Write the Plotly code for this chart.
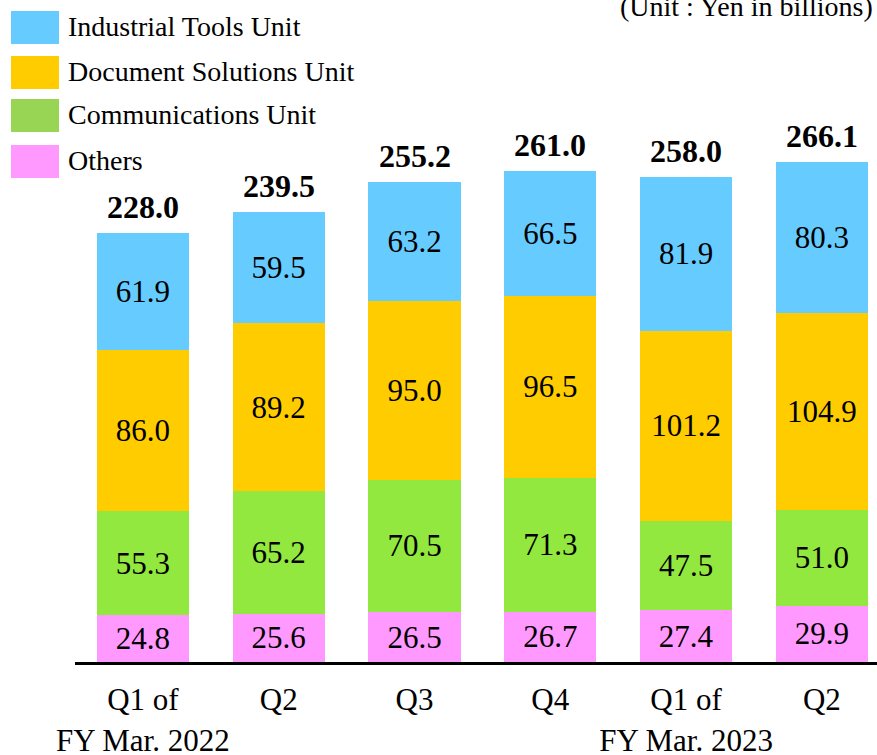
import plotly.graph_objects as go

# chart data
quarters = ["Q1 of<br>FY Mar. 2022", "Q2", "Q3", "Q4", "Q1 of<br>FY Mar. 2023", "Q2"]
others = [24.8, 25.6, 26.5, 26.7, 27.4, 29.9]
communications = [55.3, 65.2, 70.5, 71.3, 47.5, 51.0]
document_solutions = [86.0, 89.2, 95.0, 96.5, 101.2, 104.9]
industrial_tools = [61.9, 59.5, 63.2, 66.5, 81.9, 80.3]
totals = [228.0, 239.5, 255.2, 261.0, 258.0, 266.1]

series_names = ["Industrial Tools Unit", "Document Solutions Unit", "Communications Unit", "Others"]
bar_colors = ["#66CCFF", "#FFCC00", "#92E83E", "#FF99FF"]
legend_colors = ["#66CCFF", "#FFCC00", "#99D555", "#FF99FF"]

FONT = "Liberation Serif, Times New Roman, serif"
W, H = 877, 755
L, B = 75, 93
PLOT_W, PLOT_H = W - L, H - B


def px(x):
    return (x - L) / PLOT_W


def py(y):
    return (PLOT_H - y) / PLOT_H


xpos = list(range(len(quarters)))

fig = go.Figure()
stack = [
    (others, 3),
    (communications, 2),
    (document_solutions, 1),
    (industrial_tools, 0),
]
for values, idx in stack:
    fig.add_trace(go.Bar(
        x=xpos,
        y=values,
        name=series_names[idx],
        width=0.68,
        marker=dict(color=bar_colors[idx], line=dict(width=0)),
        texttemplate="%{y:.1f}",
        textposition="inside",
        insidetextanchor="middle",
        constraintext="none",
        textangle=0,
        textfont=dict(family=FONT, size=31, color="black"),
    ))

annotations = []
# totals above bars
for i, t in enumerate(totals):
    annotations.append(dict(
        x=i, y=t, xref="x", yref="y",
        text=f"<b>{t:.1f}</b>",
        showarrow=False, yanchor="bottom", yshift=6,
        font=dict(family=FONT, size=32, color="black"),
    ))

# hand-made legend (big square swatches)
shapes = []
legend_rows = [(11, 44), (56, 89), (99, 132), (145, 178)]
for k, (top, bottom) in enumerate(legend_rows):
    shapes.append(dict(
        type="rect", xref="paper", yref="paper",
        x0=px(11), x1=px(59), y0=py(bottom), y1=py(top),
        fillcolor=legend_colors[k], line=dict(width=0), layer="above",
    ))
    annotations.append(dict(
        x=px(66), y=py((top + bottom) / 2 - 1), xref="paper", yref="paper",
        text=series_names[k], showarrow=False,
        xanchor="left", yanchor="middle",
        font=dict(family=FONT, size=28, color="black"),
    ))

annotations.append(dict(
    x=px(875), y=py(7), xref="paper", yref="paper",
    text="(Unit : Yen in billions)", showarrow=False,
    xanchor="right", yanchor="middle",
    font=dict(family=FONT, size=28, color="black"),
))

fig.update_layout(
    barmode="stack",
    width=W,
    height=H,
    margin=dict(l=L, r=0, t=0, b=B, pad=0),
    plot_bgcolor="white",
    paper_bgcolor="white",
    showlegend=False,
    shapes=shapes,
    annotations=annotations,
    font=dict(family=FONT, size=31, color="black"),
    xaxis=dict(
        range=[-0.5, -0.5 + PLOT_W / 135.8],
        tickvals=xpos,
        ticktext=quarters,
        showline=True,
        linecolor="black",
        linewidth=3,
        ticks="outside",
        ticklen=8,
        tickcolor="rgba(0,0,0,0)",
        showgrid=False,
        zeroline=False,
        automargin=False,
        tickfont=dict(family=FONT, size=31, color="black"),
    ),
    yaxis=dict(
        range=[0, 352],
        visible=False,
        showgrid=False,
        zeroline=False,
        automargin=False,
    ),
)

# drop the default page margin so the 877x755 figure fills the window exactly
fig.write_html(
    "out.html",
    config={"displayModeBar": False},
    post_script="document.body.style.margin='0';document.body.style.overflow='hidden';",
)
